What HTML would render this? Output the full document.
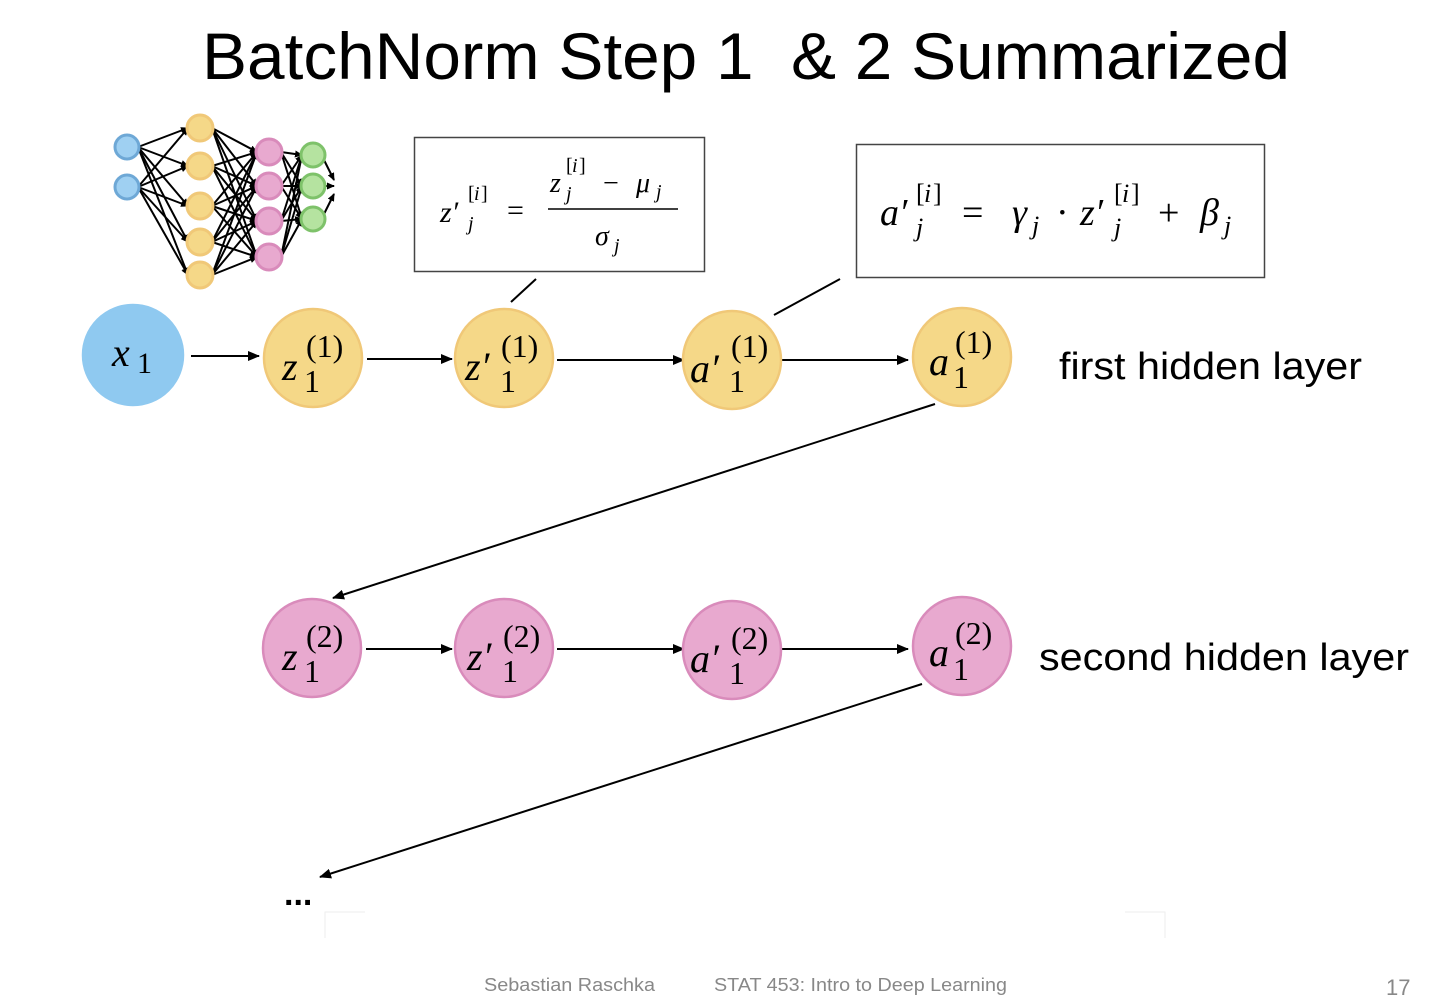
<!DOCTYPE html>
<html><head><meta charset="utf-8"><style>
html,body{margin:0;padding:0;background:#fff;}
svg text{font-family:"Liberation Serif",serif;font-style:italic;}
svg text.n{font-style:normal;}
svg text.sans{font-family:"Liberation Sans",sans-serif;font-style:normal;}
</style></head><body>
<svg width="1436" height="1000" viewBox="0 0 1436 1000" xmlns="http://www.w3.org/2000/svg">
<defs>
<marker id="ah" markerWidth="12" markerHeight="10" refX="11" refY="5" orient="auto" markerUnits="userSpaceOnUse">
<path d="M0,0 L12,5 L0,10 Z" fill="#000"/></marker>
<marker id="sh" markerWidth="8" markerHeight="7" refX="7" refY="3.5" orient="auto" markerUnits="userSpaceOnUse">
<path d="M0,0 L8,3.5 L0,7 Z" fill="#000"/></marker>
</defs>
<text x="202" y="79" class="sans" font-size="66" fill="#000" textLength="1088" lengthAdjust="spacingAndGlyphs" xml:space="preserve">BatchNorm Step 1  &amp; 2 Summarized</text>

<!-- small network -->
<g stroke="#000" stroke-width="2" marker-end="url(#sh)">
<line x1="138" y1="147" x2="188" y2="128"/><line x1="138" y1="147" x2="188" y2="166"/><line x1="138" y1="147" x2="188" y2="206"/><line x1="138" y1="147" x2="188" y2="242"/><line x1="138" y1="147" x2="188" y2="275"/>
<line x1="138" y1="187" x2="188" y2="128"/><line x1="138" y1="187" x2="188" y2="166"/><line x1="138" y1="187" x2="188" y2="206"/><line x1="138" y1="187" x2="188" y2="242"/><line x1="138" y1="187" x2="188" y2="275"/>
<line x1="212" y1="128" x2="257" y2="152"/><line x1="212" y1="128" x2="257" y2="186"/><line x1="212" y1="128" x2="257" y2="221"/><line x1="212" y1="128" x2="257" y2="257"/>
<line x1="212" y1="166" x2="257" y2="152"/><line x1="212" y1="166" x2="257" y2="186"/><line x1="212" y1="166" x2="257" y2="221"/><line x1="212" y1="166" x2="257" y2="257"/>
<line x1="212" y1="206" x2="257" y2="152"/><line x1="212" y1="206" x2="257" y2="186"/><line x1="212" y1="206" x2="257" y2="221"/><line x1="212" y1="206" x2="257" y2="257"/>
<line x1="212" y1="242" x2="257" y2="152"/><line x1="212" y1="242" x2="257" y2="186"/><line x1="212" y1="242" x2="257" y2="221"/><line x1="212" y1="242" x2="257" y2="257"/>
<line x1="212" y1="275" x2="257" y2="152"/><line x1="212" y1="275" x2="257" y2="186"/><line x1="212" y1="275" x2="257" y2="221"/><line x1="212" y1="275" x2="257" y2="257"/>
<line x1="281" y1="152" x2="302" y2="155"/><line x1="281" y1="152" x2="302" y2="186"/><line x1="281" y1="152" x2="302" y2="219"/>
<line x1="281" y1="186" x2="302" y2="155"/><line x1="281" y1="186" x2="302" y2="186"/><line x1="281" y1="186" x2="302" y2="219"/>
<line x1="281" y1="221" x2="302" y2="155"/><line x1="281" y1="221" x2="302" y2="186"/><line x1="281" y1="221" x2="302" y2="219"/>
<line x1="281" y1="257" x2="302" y2="155"/><line x1="281" y1="257" x2="302" y2="186"/><line x1="281" y1="257" x2="302" y2="219"/>
<line x1="324" y1="160" x2="334" y2="180"/><line x1="324" y1="186" x2="334" y2="186"/><line x1="324" y1="214" x2="334" y2="194"/>
</g>
<g stroke-width="3">
<circle cx="127" cy="147" r="12" fill="#9fd0f2" stroke="#6ea8d6"/><circle cx="127" cy="187" r="12" fill="#9fd0f2" stroke="#6ea8d6"/>
<circle cx="200" cy="128" r="13" fill="#f5d888" stroke="#f0c878"/><circle cx="200" cy="166" r="13" fill="#f5d888" stroke="#f0c878"/><circle cx="200" cy="206" r="13" fill="#f5d888" stroke="#f0c878"/><circle cx="200" cy="242" r="13" fill="#f5d888" stroke="#f0c878"/><circle cx="200" cy="275" r="13" fill="#f5d888" stroke="#f0c878"/>
<circle cx="269" cy="152" r="13" fill="#e8a9cf" stroke="#d98bbb"/><circle cx="269" cy="186" r="13" fill="#e8a9cf" stroke="#d98bbb"/><circle cx="269" cy="221" r="13" fill="#e8a9cf" stroke="#d98bbb"/><circle cx="269" cy="257" r="13" fill="#e8a9cf" stroke="#d98bbb"/>
<circle cx="313" cy="155" r="12" fill="#b5e3a0" stroke="#7ec26a"/><circle cx="313" cy="186" r="12" fill="#b5e3a0" stroke="#7ec26a"/><circle cx="313" cy="219" r="12" fill="#b5e3a0" stroke="#7ec26a"/>
</g>

<!-- boxes -->
<rect x="414.5" y="137.5" width="290" height="134" fill="#fff" stroke="#444" stroke-width="1.5"/>
<text x="440" y="222" font-size="30">z′</text><text x="468" y="200" font-size="20" class="n">[</text><text x="474" y="200" font-size="20">i</text><text x="481" y="200" font-size="20" class="n">]</text><text x="468" y="230" font-size="20">j</text>
<text x="507" y="220" font-size="30" class="n">=</text>
<text x="550" y="192" font-size="28">z</text><text x="566" y="172" font-size="20" class="n">[</text><text x="572" y="172" font-size="20">i</text><text x="579" y="172" font-size="20" class="n">]</text><text x="566" y="200" font-size="20">j</text>
<text x="603" y="192" font-size="28" class="n">−</text><text x="636" y="192" font-size="28">μ</text><text x="656" y="198" font-size="20">j</text>
<line x1="548" y1="209" x2="678" y2="209" stroke="#000" stroke-width="1.5"/>
<text x="595" y="245" font-size="28">σ</text><text x="614" y="252" font-size="20">j</text>

<rect x="856.5" y="144.5" width="408" height="133" fill="#fff" stroke="#444" stroke-width="1.5"/>
<text x="880" y="225" font-size="38">a′</text><text x="916" y="202" font-size="26" class="n">[</text><text x="924" y="202" font-size="26">i</text><text x="933" y="202" font-size="26" class="n">]</text><text x="916" y="236" font-size="26">j</text>
<text x="962" y="225" font-size="38" class="n">=</text>
<text x="1012" y="225" font-size="38">γ</text><text x="1032" y="234" font-size="26">j</text>
<text x="1056" y="225" font-size="38" class="n">·</text>
<text x="1080" y="225" font-size="38">z′</text><text x="1114" y="202" font-size="26" class="n">[</text><text x="1122" y="202" font-size="26">i</text><text x="1131" y="202" font-size="26" class="n">]</text><text x="1114" y="236" font-size="26">j</text>
<text x="1158" y="225" font-size="38" class="n">+</text>
<text x="1200" y="225" font-size="38">β</text><text x="1224" y="234" font-size="26">j</text>

<line x1="511" y1="302" x2="536" y2="279" stroke="#000" stroke-width="2"/>
<line x1="774" y1="315" x2="840" y2="279" stroke="#000" stroke-width="2"/>

<!-- arrows -->
<g stroke="#000" stroke-width="2" marker-end="url(#ah)">
<line x1="191" y1="356" x2="259" y2="356"/><line x1="367" y1="359" x2="452" y2="359"/><line x1="557" y1="360" x2="684" y2="360"/><line x1="782" y1="360" x2="908" y2="360"/>
<line x1="935" y1="404" x2="333" y2="598"/>
<line x1="366" y1="649" x2="452" y2="649"/><line x1="557" y1="649" x2="684" y2="649"/><line x1="782" y1="649" x2="908" y2="649"/>
<line x1="922" y1="684" x2="320" y2="877"/>
</g>

<!-- nodes -->
<g stroke-width="2.5">
<circle cx="133" cy="355" r="50" fill="#8fc9f0" stroke="#8fc9f0"/>
<circle cx="313" cy="358" r="49" fill="#f5d888" stroke="#f0c878"/>
<circle cx="504" cy="358" r="49" fill="#f5d888" stroke="#f0c878"/>
<circle cx="732" cy="360" r="49" fill="#f5d888" stroke="#f0c878"/>
<circle cx="962" cy="357" r="49" fill="#f5d888" stroke="#f0c878"/>
<circle cx="312" cy="648" r="49" fill="#e8a9cf" stroke="#d98bbb"/>
<circle cx="504" cy="648" r="49" fill="#e8a9cf" stroke="#d98bbb"/>
<circle cx="732" cy="650" r="49" fill="#e8a9cf" stroke="#d98bbb"/>
<circle cx="962" cy="646" r="49" fill="#e8a9cf" stroke="#d98bbb"/>
</g>
<g font-size="40">
<text x="112" y="366">x</text><text x="137" y="373" font-size="30" class="n">1</text>
<text x="282" y="380">z</text><text x="304" y="392" font-size="32" class="n">1</text><text x="306" y="357" font-size="32" class="n">(1)</text>
<text x="465" y="380">z′</text><text x="500" y="392" font-size="32" class="n">1</text><text x="501" y="357" font-size="32" class="n">(1)</text>
<text x="690" y="382">a′</text><text x="729" y="392" font-size="32" class="n">1</text><text x="731" y="357" font-size="32" class="n">(1)</text>
<text x="929" y="375">a</text><text x="953" y="388" font-size="32" class="n">1</text><text x="955" y="353" font-size="32" class="n">(1)</text>
<text x="282" y="670">z</text><text x="304" y="682" font-size="32" class="n">1</text><text x="306" y="647" font-size="32" class="n">(2)</text>
<text x="467" y="670">z′</text><text x="502" y="682" font-size="32" class="n">1</text><text x="503" y="647" font-size="32" class="n">(2)</text>
<text x="690" y="672">a′</text><text x="729" y="684" font-size="32" class="n">1</text><text x="731" y="649" font-size="32" class="n">(2)</text>
<text x="929" y="666">a</text><text x="953" y="680" font-size="32" class="n">1</text><text x="955" y="644" font-size="32" class="n">(2)</text>
</g>

<text x="1059" y="379" class="sans" font-size="38" textLength="303" lengthAdjust="spacingAndGlyphs">first hidden layer</text>
<text x="1039" y="670" class="sans" font-size="38" textLength="370" lengthAdjust="spacingAndGlyphs">second hidden layer</text>
<text x="284" y="905" class="sans" font-size="34" font-weight="bold">...</text>
<path d="M365 912 H325 V938 M1125 912 H1165 V938" fill="none" stroke="#eee" stroke-width="1"/>
<text x="484" y="991" class="sans" font-size="18" fill="#888" textLength="171" lengthAdjust="spacingAndGlyphs">Sebastian Raschka</text>
<text x="714" y="991" class="sans" font-size="18" fill="#888" textLength="293" lengthAdjust="spacingAndGlyphs">STAT 453: Intro to Deep Learning</text>
<text x="1386" y="995" class="sans" font-size="22" fill="#888">17</text>
</svg>
</body></html>
